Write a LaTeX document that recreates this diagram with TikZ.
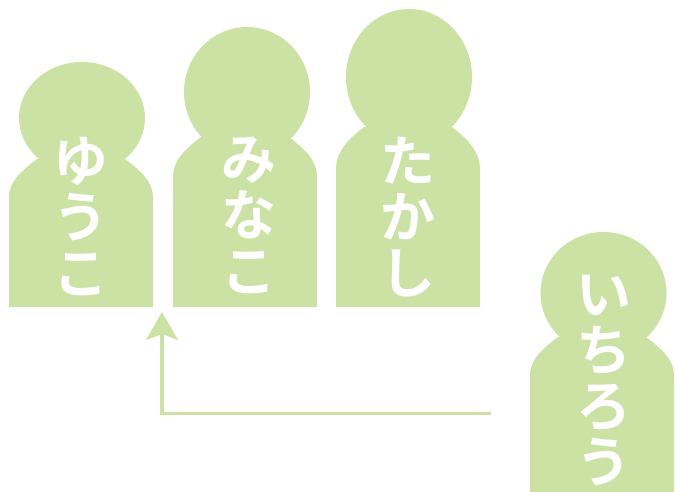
\documentclass[tikz,border=0pt]{standalone}
\usepackage{fontspec}
\setmainfont{Noto Sans CJK JP Bold}
\usetikzlibrary{arrows.meta}
\definecolor{leaf}{HTML}{CBE2A4}
\tikzset{
  x=1pt,y=-1pt,
  figurefill/.style={fill=leaf,draw=none},
  namelabel/.style={text=white,font=\fontsize{55}{56}\selectfont,align=center,inner sep=0pt,anchor=north},
  linkline/.style={draw=leaf,line width=3.4pt,-{Stealth[length=28pt,width=32pt,inset=6pt]}},
}
% #1 ellipse cx, #2 ellipse cy, #3 y radius, #4 neck y, #5 shoulder y, #6 bottom y, #7 body cx
\newcommand{\personshape}[7]{%
  \fill[figurefill] (#1,#2) ellipse [x radius=63pt,y radius=#3pt];
  \fill[figurefill] (#7-72,#6) -- (#7-72,#5) .. controls (#7-72,#5-15) and (#7-60,#4+12) .. (#7-44,#4)
    -- (#7+44,#4) .. controls (#7+60,#4+12) and (#7+72,#5-15) .. (#7+72,#5) -- (#7+72,#6) -- cycle;
}
\begin{document}
\begin{tikzpicture}
\useasboundingbox (0,0) rectangle (675,492);
\personshape{82}{118}{56}{159}{197}{307}{81}
\personshape{247}{92}{65}{137}{176}{307}{245}
\personshape{409}{77}{68}{127}{168}{307}{408}
\personshape{603.5}{293}{61}{337}{375}{492}{602}
\node[namelabel] (yuko) at (81,137) {ゆ\\う\\こ};
\node[namelabel] (minako) at (249,137) {み\\な\\こ};
\node[namelabel] (takashi) at (408,137) {た\\か\\し};
\node[namelabel] (ichiro) at (604,275) {い\\ち\\ろ\\う};
\coordinate (linkstart) at (491,413.5);
\coordinate (linkcorner) at (162,413.5);
\coordinate (linkend) at (162,312);
\draw[linkline] (linkstart) -- (linkcorner) -- (linkend);
\end{tikzpicture}
\end{document}
